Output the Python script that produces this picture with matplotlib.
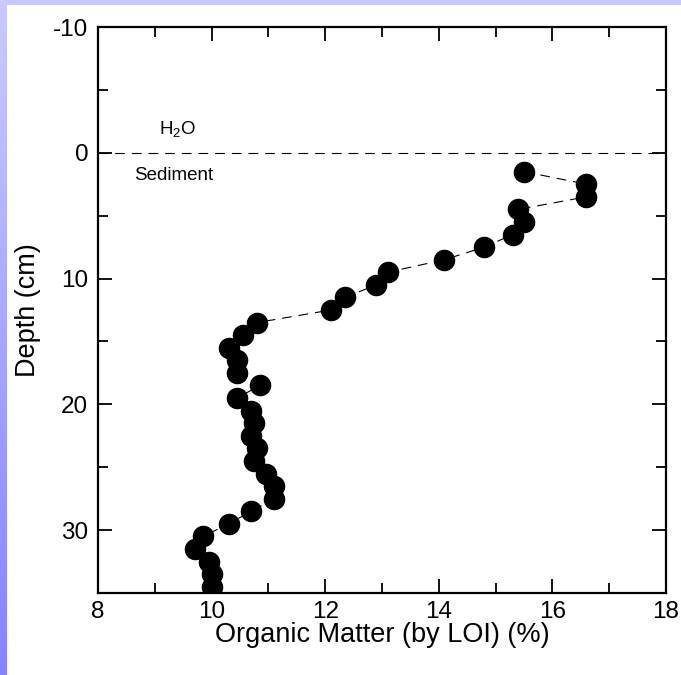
import numpy as np
import matplotlib
matplotlib.use("Agg")
import matplotlib.pyplot as plt
from matplotlib.colors import LinearSegmentedColormap

plt.rcParams['font.family'] = ['Liberation Sans', 'DejaVu Sans']
plt.rcParams['axes.unicode_minus'] = False
plt.rcParams['mathtext.fontset'] = 'custom'
plt.rcParams['mathtext.rm'] = 'Liberation Sans'
plt.rcParams['lines.scale_dashes'] = False

# data
depth = [1.5, 2.5, 3.5, 4.5, 5.5, 6.5, 7.5, 8.5, 9.5, 10.5, 11.5, 12.5,
         13.5, 14.5, 15.5, 16.5, 17.5, 18.5, 19.5, 20.5, 21.5, 22.5, 23.5,
         24.5, 25.5, 26.5, 27.5, 28.5, 29.5, 30.5, 31.5, 32.5, 33.5, 34.5]
organic = [15.5, 16.6, 16.6, 15.4, 15.5, 15.3, 14.8, 14.1, 13.1, 12.9, 12.35, 12.1,
           10.8, 10.55, 10.3, 10.45, 10.45, 10.85, 10.45, 10.7, 10.75, 10.7, 10.8,
           10.75, 10.95, 11.1, 11.1, 10.7, 10.3, 9.85, 9.7, 9.95, 10.0, 10.0]
xticks = [8, 10, 12, 14, 16, 18]
yticks = [-10, 0, 10, 20, 30]

fig = plt.figure(figsize=(6.81, 6.75), dpi=100)

# lavender border strips
top = fig.add_axes([0, 1 - 5 / 675, 1, 5 / 675])
top.axis('off')
top.add_patch(plt.Rectangle((0, 0), 1, 1, color='#c8c8fa', transform=top.transAxes))
strip = fig.add_axes([0, 0, 7 / 681, 1])
cmap = LinearSegmentedColormap.from_list('lav', ['#8484ff', '#cacaff'])
strip.imshow(np.linspace(0, 1, 256).reshape(-1, 1), aspect='auto', cmap=cmap, origin='lower')
strip.axis('off')

ax = fig.add_axes([98 / 681, 82 / 675, 568 / 681, 566 / 675])
ax.plot(organic, depth, color='black', lw=0.8, dashes=(7, 5), zorder=2)
ax.plot(organic, depth, 'o', color='black', ms=14.5, zorder=3)
ax.axhline(0, color='black', lw=0.8, dashes=(7, 5))

ax.text(9.08, -1.8, r'H$_\mathrm{2}$O', fontsize=13.5, va='center', ha='left')
ax.text(8.64, 1.8, 'Sediment', fontsize=13.5, va='center', ha='left')

ax.set_xlim(8, 18)
ax.set_ylim(35, -10)
ax.set_xticks(xticks)
ax.set_yticks(yticks)
ax.set_xticks(np.arange(9, 18, 2), minor=True)
ax.set_yticks(np.arange(-5, 35, 10), minor=True)
ax.tick_params(which='both', direction='in', top=True, right=True, width=1.3, labelsize=17.5, pad=7)
ax.tick_params(axis='x', which='both', pad=6)
ax.tick_params(which='major', length=10)
ax.tick_params(which='minor', length=7)
for s in ax.spines.values():
    s.set_linewidth(1.6)

ax.set_xlabel('Organic Matter (by LOI) (%)', fontsize=19.5, labelpad=-1)
ax.set_ylabel('Depth (cm)', fontsize=19.5, labelpad=9)

fig.savefig('out.png', dpi=100)
